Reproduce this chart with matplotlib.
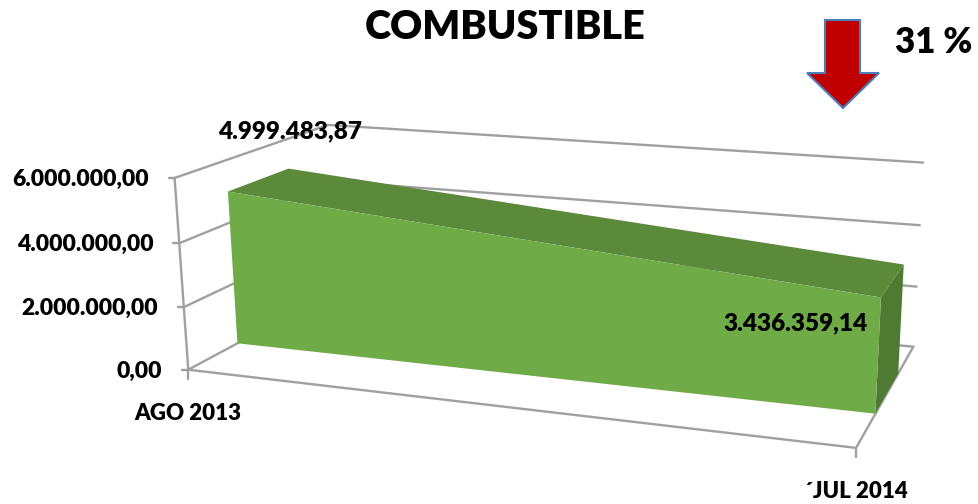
import numpy as np
import matplotlib.pyplot as plt
from matplotlib.patches import Polygon

# data
categories = ["AGO 2013", "\u00b4JUL 2014"]
values = [4999483.87, 3436359.14]
value_ticks = [0, 2000000, 4000000, 6000000]
title = "COMBUSTIBLE"

plt.rcParams['font.family'] = ['Lato', 'DejaVu Sans']
W = "heavy"   # excel renders its bold calibri quite dark

def fmt(v):
    # 4999483.87 -> 4.999.483,87
    s = f"{v:,.2f}"
    return s.replace(",", "#").replace(".", ",").replace("#", ".")

# box corners of the excel 3d chart (world x=category, y=value/ymax, z=depth) -> pixel
ref_world = [(0, 0, 0), (0, 1/3, 0), (0, 2/3, 0), (0, 1, 0), (1, 0, 0),
             (0, 1, 1), (1, 1, 1), (1, 2/3, 1), (1, 1/3, 1), (1, 0, 1)]
ref_pix = [(188, 370), (184, 307), (180, 243), (174, 178), (856, 448),
           (328, 125), (923, 163), (920, 225), (917, 286), (913, 347)]

def fit_camera(world, pix):
    rows = []
    for (X, Y, Z), (u, v) in zip(world, pix):
        u, v = u / 1000.0, v / 1000.0
        p = [X, Y, Z, 1.0]
        rows.append(p + [0, 0, 0, 0] + [-u * c for c in p])
        rows.append([0, 0, 0, 0] + p + [-v * c for c in p])
    _, _, vt = np.linalg.svd(np.array(rows))
    return vt[-1].reshape(3, 4)

P = fit_camera(ref_world, ref_pix)
ymax = value_ticks[-1]
ncat = len(categories)

def proj(ci, val, z):
    x = ci / (ncat - 1)
    h = P @ np.array([x, val / ymax, z, 1.0])
    return 1000.0 * h[0] / h[2], 1000.0 * h[1] / h[2]

fig = plt.figure(figsize=(9.79, 5.04), dpi=100)
ax = fig.add_axes([0, 0, 1, 1])
ax.set_xlim(0, 979)
ax.set_ylim(504, 0)
ax.axis("off")

grid_kw = dict(color="#a0a0a0", lw=1.7, solid_capstyle="round", zorder=1)

# walls: side wall + back wall gridlines
for t in value_ticks:
    a = proj(0, t, 0)
    b = proj(0, t, 1)
    c = proj(ncat - 1, t, 1)
    ax.plot([a[0], b[0], c[0]], [a[1], b[1], c[1]], **grid_kw)
    ax.plot([a[0] - 6, a[0]], [a[1], a[1]], **grid_kw)   # tick
    ax.text(a[0] - 26, a[1] + 8, fmt(t), ha="right", va="baseline",
            fontsize=16.5, fontweight=W)

# value axis + floor
for pts in [[proj(0, 0, 0), proj(0, ymax, 0)],
            [proj(0, 0, 0), proj(ncat - 1, 0, 0), proj(ncat - 1, 0, 1)]]:
    ax.plot([p[0] for p in pts], [p[1] for p in pts], **grid_kw)

# category ticks + labels
for i, lab in enumerate(categories):
    x, y = proj(i, 0, 0)
    ax.plot([x, x], [y, y + 9], **grid_kw)
    ax.text(x, y + 50, lab, ha="center", va="baseline", fontsize=16, fontweight=W)

# area slab
z0, z1 = 0.3, 0.7
last = ncat - 1
front = [proj(0, 0, z0)] + [proj(i, v, z0) for i, v in enumerate(values)] + [proj(last, 0, z0)]
top = [proj(0, values[0], z0), proj(0, values[0], z1), proj(last, values[-1], z1), proj(last, values[-1], z0)]
side = [proj(last, 0, z0), proj(last, values[-1], z0), proj(last, values[-1], z1), proj(last, 0, z1)]
ax.add_patch(Polygon(side, closed=True, fc="#4e7b31", ec="none", zorder=3))
ax.add_patch(Polygon(top, closed=True, fc="#5a8a3a", ec="none", zorder=3))
ax.add_patch(Polygon(front, closed=True, fc="#6fac47", ec="none", zorder=4))

# data labels
x, y = proj(0, values[0], z1)
ax.text(x + 1, y - 30, fmt(values[0]), ha="center", va="baseline",
        fontsize=17.5, fontweight=W, zorder=5)
x, y = proj(last, values[-1], z0)
ax.text(x - 13, y + 33, fmt(values[-1]), ha="right", va="baseline",
        fontsize=17.5, fontweight=W, zorder=5)

# title and change arrow
ax.text(505, 39, title, ha="center", va="baseline", fontsize=28.5, fontweight=W)
pct = round((1 - values[-1] / values[0]) * 100)
ax.text(895, 53, f"{pct} %", ha="left", va="baseline", fontsize=25, fontweight=W)
arrow = [(825, 20), (860, 20), (860, 73), (879, 73), (843, 108), (807, 73), (825, 73)]
ax.add_patch(Polygon(arrow, closed=True, fc="#c00000", ec="#4a7ebb", lw=1.5, zorder=5))

fig.savefig("out.png", dpi=100)
